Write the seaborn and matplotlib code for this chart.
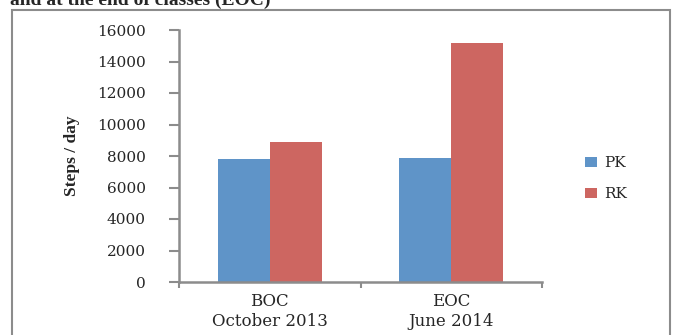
import matplotlib
matplotlib.use("Agg")
import matplotlib.pyplot as plt
import pandas as pd
import seaborn as sns
from matplotlib.patches import Rectangle

# values
periods = ["BOC\nOctober 2013", "EOC\nJune 2014"]
pk_steps = [7800, 7900]
rk_steps = [8900, 15150]
groups = ["PK", "RK"]
y_ticks = [0, 2000, 4000, 6000, 8000, 10000, 12000, 14000, 16000]

df = pd.DataFrame({
    "period": periods * 2,
    "group": ["PK"] * len(periods) + ["RK"] * len(periods),
    "steps": pk_steps + rk_steps,
})

sns.set_style("white")
plt.rcParams["font.family"] = ["DejaVu Serif"]

fig = plt.figure(figsize=(6.75, 3.35), dpi=100)
ax = fig.add_axes([179 / 675, 1 - 282 / 335, 363 / 675, 252 / 335])

sns.barplot(
    data=df, x="period", y="steps", hue="group", hue_order=groups,
    palette=["#5F94C8", "#CD6661"], width=0.575, gap=0,
    errorbar=None, saturation=1, linewidth=0, ax=ax,
)

ax.set_xlim(-0.5, 1.5)
ax.set_ylim(0, 16000)
ax.set_yticks(y_ticks)
ax.set_yticklabels([str(v) for v in y_ticks], fontsize=11)
ax.tick_params(axis="y", length=7, width=1.5, color="#8C8C8C", pad=17, left=True)

# labels at category centres, tick marks at category boundaries
ax.set_xticks([0, 1])
ax.set_xticklabels(periods, fontsize=12, linespacing=1.2)
ax.tick_params(axis="x", length=0, pad=8)
ax.set_xticks([-0.5, 0.5, 1.5], minor=True)
ax.tick_params(axis="x", which="minor", length=4, width=1.5, color="#8C8C8C", bottom=True)

ax.set_xlabel("")
ax.set_ylabel("Steps / day", family="Liberation Serif", fontsize=12.5,
              fontweight="bold", labelpad=12)

for side in ["top", "right"]:
    ax.spines[side].set_visible(False)
for side in ["left", "bottom"]:
    ax.spines[side].set_color("#8C8C8C")
    ax.spines[side].set_linewidth(1.8)

leg = ax.legend(loc="center left", bbox_to_anchor=(1.08, 0.41), frameon=False,
                fontsize=11, handlelength=0.8, handleheight=0.6,
                labelspacing=1.1, handletextpad=0.5)

# outer chart frame and clipped caption above
fig.patches.append(Rectangle((12 / 675, -0.1), 658 / 675, 1.1 - 10 / 335,
                             transform=fig.transFigure, fill=False,
                             edgecolor="#8C8C8C", linewidth=1.5))
fig.text(10 / 675, 1 - 5 / 335, "and at the end of classes (EOC)",
         family="Liberation Serif", fontsize=14, fontweight="bold",
         va="baseline", ha="left")

fig.savefig("out.png", dpi=100)
